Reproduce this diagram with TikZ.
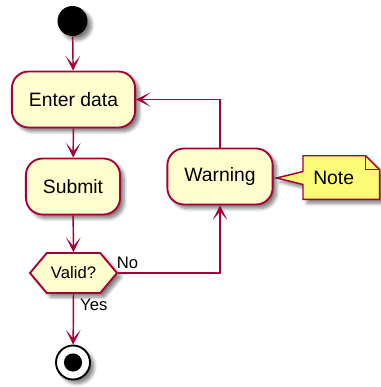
\documentclass[tikz,border=0pt]{standalone}
\usepackage{fontspec}
\setmainfont{Liberation Sans}
\usetikzlibrary{arrows.meta, calc, backgrounds, shapes.symbols, shadows.blur}
\definecolor{actfill}{HTML}{FEFECE}
\definecolor{actborder}{HTML}{A80036}
\definecolor{notefill}{HTML}{FBFB77}
\tikzset{
  dropshade/.style={blur shadow={shadow xshift=3pt, shadow yshift=-3pt,
                    shadow blur steps=6, shadow blur radius=2.5pt, shadow opacity=50}},
  activity/.style={rectangle, rounded corners=12.5pt, draw=actborder, fill=actfill,
                   line width=1.4pt, minimum height=42pt, inner xsep=12.75pt,
                   font=\fontsize{14.5}{17}\selectfont, dropshade},
  decision/.style={signal, signal to=west and east, signal pointer angle=100,
                   draw=actborder, fill=actfill, line width=1.4pt, minimum width=65.25pt,
                   minimum height=30pt, inner sep=1pt,
                   font=\fontsize{12.5}{15}\selectfont, dropshade},
  startdot/.style={circle, fill=black, minimum size=22.5pt, inner sep=0pt, dropshade},
  stopdot/.style={circle, draw=black, line width=1.4pt, fill=white, minimum size=25.5pt,
                  inner sep=0pt, dropshade,
                  path picture={\fill[black] (path picture bounding box.center) circle (6.8pt);}},
  notebox/.style={rectangle, text width=42pt, inner xsep=7.5pt, minimum height=32.25pt,
                  align=left, font=\fontsize{14.5}{17}\selectfont},
  noteshape/.style={draw=actborder, fill=notefill, line width=1.1pt, line join=miter, dropshade},
  lbl/.style={inner sep=0pt, font=\fontsize{12.5}{15}\selectfont},
  flow/.style={-{Stealth[length=11pt, width=11pt, inset=6.5pt]}, line width=1.1pt, draw=actborder},
}

\begin{document}
\begin{tikzpicture}[x=0.75pt, y=-0.75pt]
\useasboundingbox (0,0) rectangle (380,387);

% Main column: start, input, submit, check, stop
\node[startdot] (start)  at (72.5,21)   {};
\node[activity] (enter)  at (73.5,99.5) {Enter data};
\node[activity] (submit) at (73,186.5)  {Submit};
\node[decision] (valid)  at (73.5,273)  {Valid?};
\node[stopdot]  (stop)   at (73,362.5)  {};

% Side branch
\node[activity] (warning) at (220,176.5) {Warning};
\node[notebox, anchor=west] (note) at (303,177.5) {Note};

% Note outline with pointer and folded corner
\begin{scope}[on background layer]
  \filldraw[noteshape] (note.north west) -- ($(note.north east)+(-14,0)$)
    -- ($(note.north east)+(0,14)$) -- (note.south east) -- (note.south west)
    -- ($(note.west)+(0,7)$) -- ($(warning.east)+(3,1.5)$) -- ($(note.west)+(0,-6)$) -- cycle;
  \draw[draw=actborder, line width=1.1pt] ($(note.north east)+(-14,0)$) |- ($(note.north east)+(0,14)$);
\end{scope}

% Flow
\draw[flow] (start) -- (enter);
\draw[flow] (enter) -- (submit);
\draw[flow] (submit) -- (valid);
\draw[flow] (valid.south) node[lbl, anchor=north west, xshift=4.5pt, yshift=-3pt] {Yes} -- (stop);
\draw[flow] (valid.east) node[lbl, anchor=south west, xshift=-1.5pt, yshift=2.5pt] {No} -| (warning.south);
\draw[flow] (warning.north) |- (enter.east);

\end{tikzpicture}
\end{document}
